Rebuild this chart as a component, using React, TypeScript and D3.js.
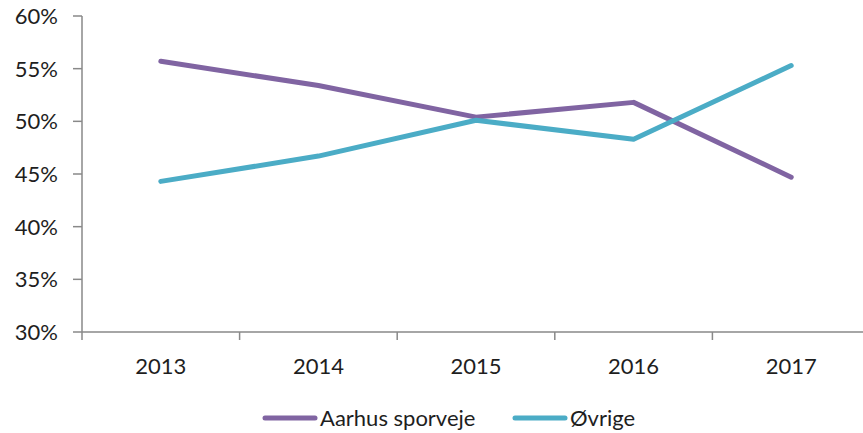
import { useEffect, useRef } from "react";
import { select, scaleBand, scaleLinear, line } from "d3";

const years = ["2013", "2014", "2015", "2016", "2017"];
const aarhus = [55.7, 53.4, 50.4, 51.8, 44.7];
const ovrige = [44.3, 46.7, 50.1, 48.3, 55.3];
const yTicks = [30, 35, 40, 45, 50, 55, 60];
const seriesNames = ["Aarhus sporveje", "Øvrige"];
const seriesColors = ["#8064a2", "#4bacc6"];

const W = 863;
const H = 433;
const FONT = "Lato, 'Open Sans', sans-serif";
const FONT_SIZE = 22;
const AXIS = "#898989";
const TEXT = "#1e1e1e";

function drawChart(svgEl: SVGSVGElement) {
	const svg = select(svgEl);
	svg.selectAll("*").remove();

	const left = 82;
	const xScale = scaleBand<string>().domain(years).range([left, left + 5 * 157.6]);
	const yScale = scaleLinear().domain([30, 60]).range([332, 16]);
	const bottom = yScale(30);

	// y axis
	svg.append("line")
		.attr("x1", left).attr("x2", left)
		.attr("y1", yScale(60)).attr("y2", bottom)
		.attr("stroke", AXIS).attr("stroke-width", 1.5);
	svg.selectAll("line.ytick")
		.data(yTicks)
		.enter()
		.append("line")
		.attr("class", "ytick")
		.attr("x1", left - 9).attr("x2", left)
		.attr("y1", (d) => yScale(d)).attr("y2", (d) => yScale(d))
		.attr("stroke", AXIS).attr("stroke-width", 1.5);
	svg.selectAll("text.ylab")
		.data(yTicks)
		.enter()
		.append("text")
		.attr("class", "ylab")
		.attr("x", 58)
		.attr("y", (d) => yScale(d))
		.attr("dy", "0.36em")
		.attr("text-anchor", "end")
		.attr("font-family", FONT)
		.attr("font-size", FONT_SIZE)
		.attr("fill", TEXT)
		.text((d) => `${d}%`);

	// x axis
	svg.append("line")
		.attr("x1", left).attr("x2", W)
		.attr("y1", bottom).attr("y2", bottom)
		.attr("stroke", AXIS).attr("stroke-width", 1.5);
	const bounds = years.map((y) => xScale(y) ?? 0).concat([(xScale("2017") ?? 0) + xScale.bandwidth()]);
	svg.selectAll("line.xtick")
		.data(bounds)
		.enter()
		.append("line")
		.attr("class", "xtick")
		.attr("x1", (d) => d).attr("x2", (d) => d)
		.attr("y1", bottom).attr("y2", bottom + 8)
		.attr("stroke", AXIS).attr("stroke-width", 1.5);
	svg.selectAll("text.xlab")
		.data(years)
		.enter()
		.append("text")
		.attr("class", "xlab")
		.attr("x", (d) => (xScale(d) ?? 0) + xScale.bandwidth() / 2)
		.attr("y", 374)
		.attr("text-anchor", "middle")
		.attr("font-family", FONT)
		.attr("font-size", FONT_SIZE)
		.attr("fill", TEXT)
		.text((d) => d);

	// lines
	const lineGen = line<number>()
		.x((_, i) => (xScale(years[i]) ?? 0) + xScale.bandwidth() / 2)
		.y((d) => yScale(d));
	[aarhus, ovrige].forEach((values, i) => {
		svg.append("path")
			.attr("d", lineGen(values))
			.attr("fill", "none")
			.attr("stroke", seriesColors[i])
			.attr("stroke-width", 5)
			.attr("stroke-linecap", "round")
			.attr("stroke-linejoin", "round");
	});

	// legend
	const legendX = [265, 515];
	seriesNames.forEach((name, i) => {
		svg.append("line")
			.attr("x1", legendX[i]).attr("x2", legendX[i] + 50)
			.attr("y1", 418).attr("y2", 418)
			.attr("stroke", seriesColors[i])
			.attr("stroke-width", 5)
			.attr("stroke-linecap", "round");
		svg.append("text")
			.attr("x", legendX[i] + 55)
			.attr("y", 426)
			.attr("font-family", FONT)
			.attr("font-size", FONT_SIZE)
			.attr("fill", TEXT)
			.text(name);
	});
}

export default function App() {
	const svgRef = useRef<SVGSVGElement>(null);

	useEffect(() => {
		if (svgRef.current) drawChart(svgRef.current);
	}, []);

	return (
		<svg
			ref={svgRef}
			width={W}
			height={H}
			style={{ position: "absolute", left: 0, top: 0, background: "#fff" }}
		/>
	);
}
